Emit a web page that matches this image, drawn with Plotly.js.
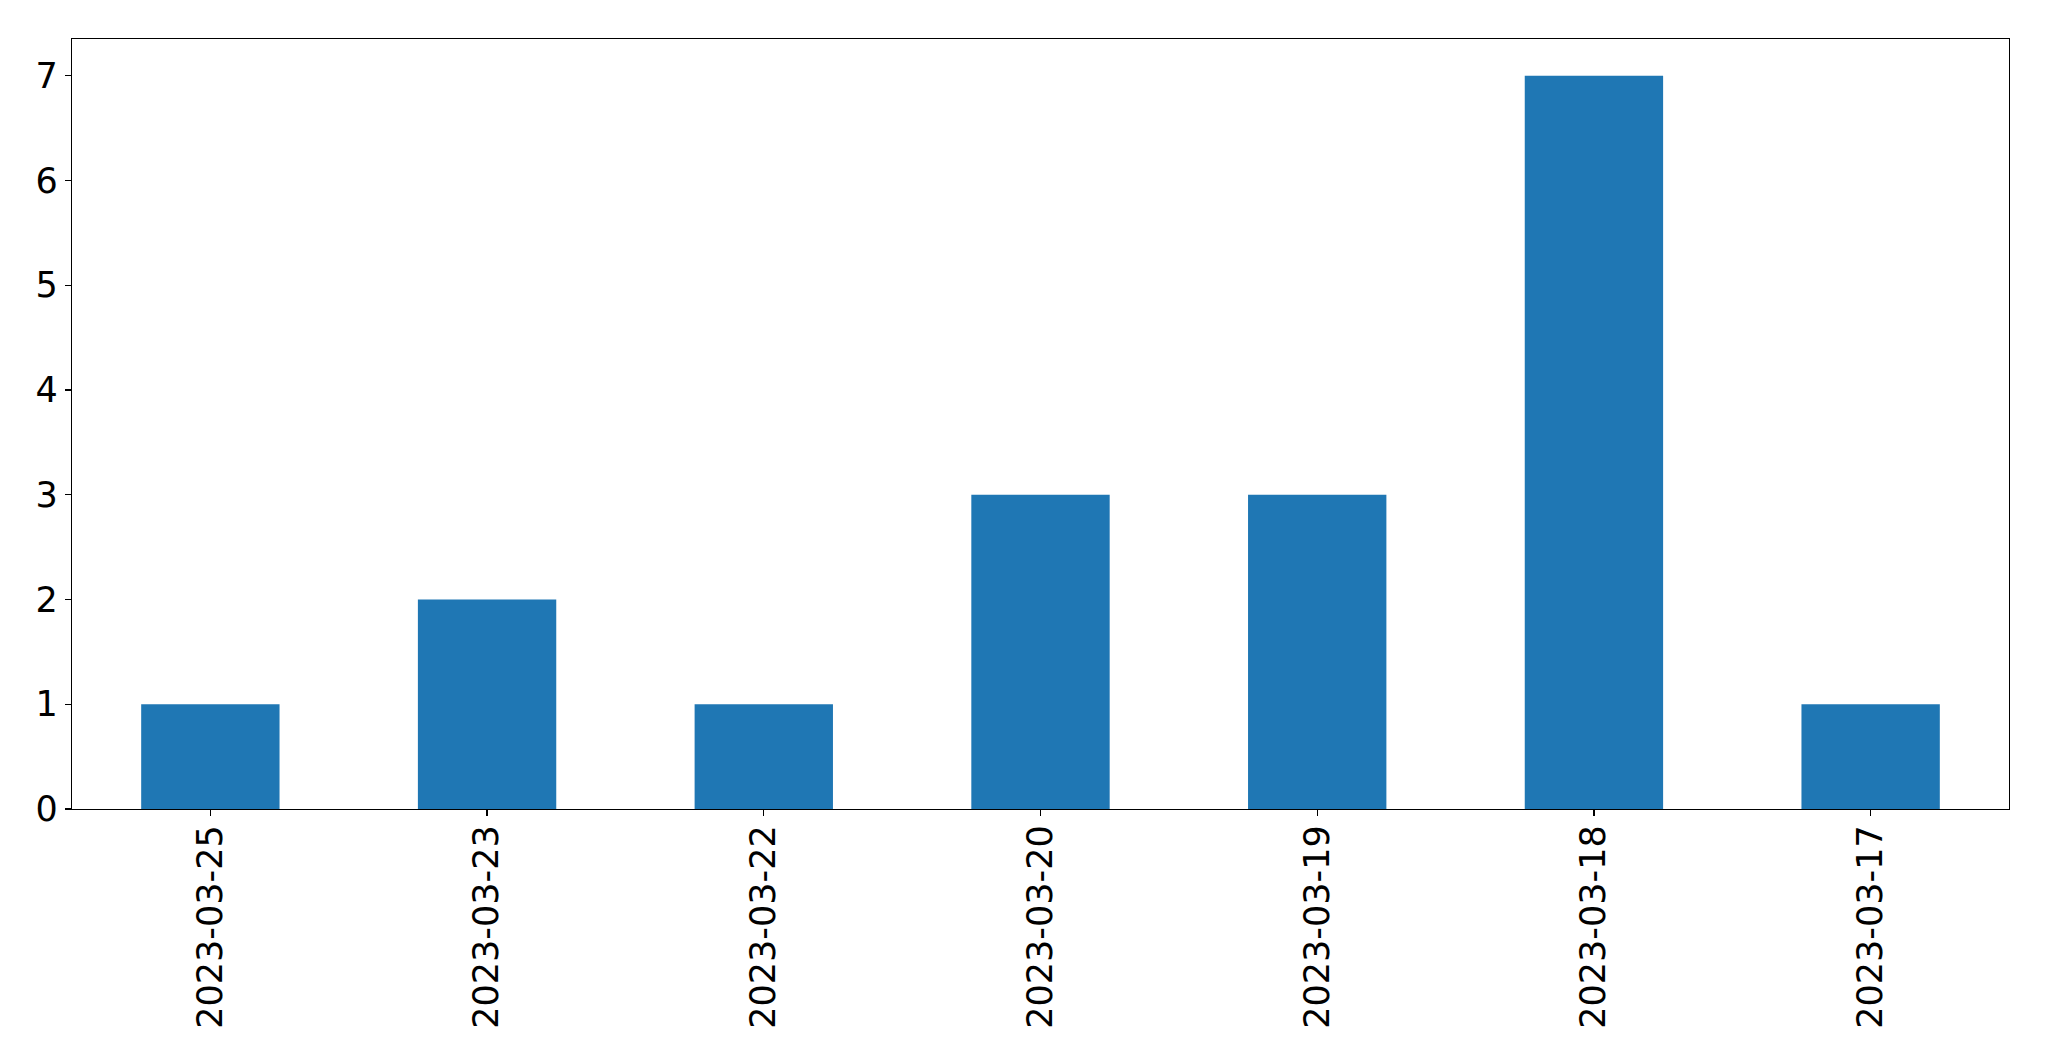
<!DOCTYPE html>
<html>
<head>
<meta charset="utf-8">
<script src="https://cdn.plot.ly/plotly-3.0.1.min.js"></script>
<style>html,body{margin:0;padding:0;background:#fff;}#chart{width:2049px;height:1061px;}</style>
</head>
<body>
<div id="chart"></div>
<script>
const categories = ["2023-03-25", "2023-03-23", "2023-03-22", "2023-03-20", "2023-03-19", "2023-03-18", "2023-03-17"];
const counts = [1, 2, 1, 3, 3, 7, 1];
const yTicks = [0, 1, 2, 3, 4, 5, 6, 7];

const trace = {
  type: "bar",
  x: categories,
  y: counts,
  width: 0.5,
  marker: {color: "#1f77b4", line: {width: 0}},
  hoverinfo: "x+y"
};

const fontFam = "DejaVu Sans, sans-serif";
const layout = {
  width: 2049,
  height: 1061,
  paper_bgcolor: "#ffffff",
  plot_bgcolor: "#ffffff",
  margin: {l: 72, r: 40, t: 39, b: 252, pad: 0},
  showlegend: false,
  font: {family: fontFam, size: 35, color: "#000000"},
  xaxis: {
    type: "category",
    range: [-0.5, 6.5],
    tickangle: -90,
    showline: true,
    mirror: true,
    linecolor: "#000000",
    linewidth: 1.3,
    ticks: "outside",
    ticklen: 6,
    tickwidth: 1.3,
    tickcolor: "#000000",
    showgrid: false,
    zeroline: false,
    ticklabelstandoff: -5,
    tickfont: {family: fontFam, size: 35, color: "#000000"}
  },
  yaxis: {
    range: [0, 7.35],
    tickvals: yTicks,
    ticktext: yTicks.map(String),
    showline: true,
    mirror: true,
    linecolor: "#000000",
    linewidth: 1.3,
    ticks: "outside",
    ticklen: 6,
    tickwidth: 1.3,
    tickcolor: "#000000",
    showgrid: false,
    zeroline: false,
    tickfont: {family: fontFam, size: 35, color: "#000000"}
  }
};

Plotly.newPlot("chart", [trace], layout, {displayModeBar: false, staticPlot: true});
</script>
</body>
</html>
